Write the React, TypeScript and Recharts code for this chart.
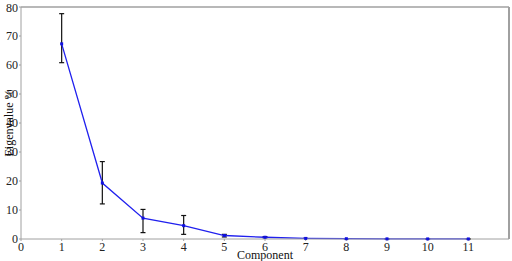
import React from 'react';
import { LineChart, Line, XAxis, YAxis, ErrorBar, ReferenceLine, Label } from 'recharts';

const components = [1, 2, 3, 4, 5, 6, 7, 8, 9, 10, 11];
const eigenvalues = [67.3, 19.3, 7.2, 4.6, 1.2, 0.6, 0.2, 0.1, 0.05, 0.03, 0.02];
const lowerBound = [60.8, 12.1, 2.2, 1.6, 0.7, 0.4, 0.2, 0.1, 0.05, 0.03, 0.02];
const upperBound = [77.7, 26.7, 10.2, 8.1, 1.6, 0.8, 0.2, 0.1, 0.05, 0.03, 0.02];
const xTicks = [0, 1, 2, 3, 4, 5, 6, 7, 8, 9, 10, 11];
const yTicks = [0, 10, 20, 30, 40, 50, 60, 70, 80];

const data = components.map((c, i) => ({
    component: c,
    value: eigenvalues[i],
    err: [eigenvalues[i] - lowerBound[i], upperBound[i] - eigenvalues[i]],
}));

const FONT = 'Liberation Serif';
const AXIS = '#a0a0a0';

const SquareDot = (props: any) => {
    const { cx, cy } = props;
    if (cx == null || cy == null) return null;
    return <rect x={cx - 1.5} y={cy - 1.5} width={3} height={3} fill="#1010e0" />;
};

const App: React.FC = () => {
    return (
        <div style={{ position: 'absolute', left: 0, top: 0, width: 512, height: 261, background: '#fff', fontFamily: FONT }}>
            <LineChart width={512} height={261} data={data} margin={{ top: 7, right: 3, left: 0, bottom: 0 }} style={{ fontFamily: FONT }}>
                <XAxis
                    dataKey="component"
                    type="number"
                    domain={[0, 12]}
                    ticks={xTicks}
                    height={22}
                    stroke={AXIS}
                    tickSize={2}
                    tickMargin={1}
                    tick={{ fill: '#222', fontSize: 12, fontFamily: FONT }}
                >
                    <Label value="Component" position="insideBottom" offset={2} style={{ fill: '#111', fontSize: 12, fontFamily: FONT }} />
                </XAxis>
                <YAxis
                    type="number"
                    domain={[0, 80]}
                    ticks={yTicks}
                    width={21}
                    stroke={AXIS}
                    tickSize={2}
                    tickMargin={1}
                    tick={{ fill: '#222', fontSize: 12, fontFamily: FONT }}
                >
                    <Label value="Eigenvalue %" angle={-90} position="insideLeft" offset={9} style={{ fill: '#111', fontSize: 12, fontFamily: FONT, textAnchor: 'middle' }} />
                </YAxis>
                <ReferenceLine y={80} stroke={AXIS} strokeWidth={1.5} />
                <ReferenceLine x={12} stroke={AXIS} strokeWidth={2} />
                <Line
                    type="linear"
                    dataKey="value"
                    stroke="#2020ee"
                    strokeWidth={1.3}
                    dot={<SquareDot />}
                    activeDot={false}
                    isAnimationActive={false}
                >
                    <ErrorBar dataKey="err" width={2.5} stroke="#111" strokeWidth={1.2} direction="y" isAnimationActive={false} />
                </Line>
            </LineChart>
        </div>
    );
};

export default App;
